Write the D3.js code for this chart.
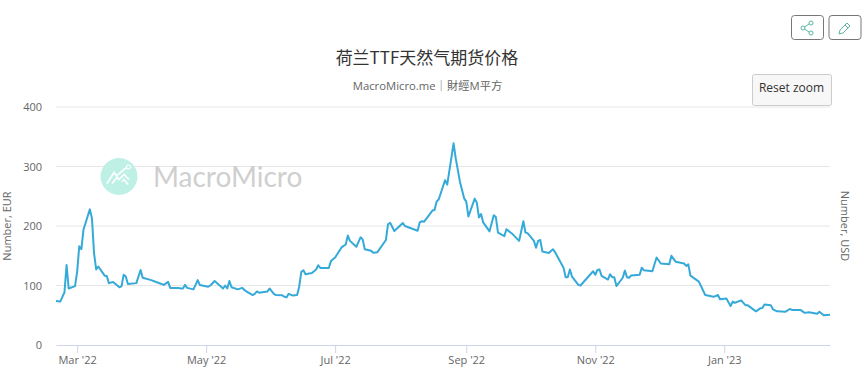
<!DOCTYPE html>
<html>
<head>
<meta charset="utf-8">
<script src="https://d3js.org/d3.v7.min.js"></script>
<style>
	html, body { margin: 0; padding: 0; background: #fff; }
	text { font-family: "Open Sans", "Noto Sans CJK SC", sans-serif; }
</style>
</head>
<body>
<div id="chart"></div>
<script>
// days counted from 1 Mar 2022
var days = [-10, -8, -6, -5, -4, -1, 0, 1, 2, 3, 6, 7, 8, 9, 10, 13, 14, 15, 17, 20, 21, 22, 23, 24, 28, 30, 31, 35, 38, 41,
	43, 44, 48, 49, 50, 51, 52, 55, 57, 58, 62, 63, 65, 69, 70, 71, 72, 73, 76, 78, 80, 83, 84, 85, 86, 90, 91, 93, 94, 97,
	98, 99, 100, 102, 104, 105, 106, 107, 108, 111, 113, 114, 115, 119, 120, 122, 125, 127, 128, 129, 132, 134, 135, 136, 139, 140, 142, 146, 147, 148,
	150, 154, 155, 161, 162, 163, 164, 168, 169, 170, 171, 174, 175, 178, 179, 181, 183, 184, 185, 188, 189, 190, 191, 192, 195, 197, 198, 199, 202, 203,
	206, 209, 211, 212, 213, 216, 217, 218, 219, 220, 223, 225, 226, 228, 230, 231, 232, 233, 234, 237, 238, 244, 245, 246, 247, 248, 251, 252, 253, 254,
	255, 258, 259, 260, 261, 262, 266, 267, 268, 272, 274, 276, 280, 281, 283, 287, 288, 289, 290, 294, 297, 301, 303, 304, 307, 309, 310, 311, 314, 316,
	317, 321, 323, 324, 325, 328, 329, 331, 335, 337, 338, 342, 344, 346, 350, 351, 353, 356];

var prices = [74, 73, 88.5, 134.5, 95, 99, 123, 166, 161, 194, 228, 213, 154, 127, 132, 116.5, 116, 104, 106, 97, 99, 118, 115, 102.5, 104, 126, 113, 109, 105, 101,
	106, 96, 96, 95, 95, 101, 96, 93.5, 109, 101, 98, 100, 107.5, 95, 100, 95, 107.5, 97, 93.5, 96, 90, 84, 86, 90, 88, 90, 95, 86, 84, 83.5,
	81, 80, 86, 83, 84, 98, 123, 125.5, 119, 121, 127, 134, 129.5, 129.5, 141, 147, 164, 169, 184, 175, 165, 181, 177.5, 161, 158.5, 155, 156, 176.5, 203, 205.5,
	191.5, 205, 200, 192, 206, 208, 207, 226, 227, 241, 245, 277, 269.5, 339, 314, 274.5, 246.5, 241, 216, 246, 239, 214.5, 220, 206, 191, 218, 215, 189, 183, 194.5,
	186, 175, 208, 189, 188, 175, 163.5, 175, 176.5, 157, 154.5, 161, 156, 143, 130, 114, 114, 127, 115, 101, 100, 124, 118, 126, 127, 116, 110, 119, 114, 114,
	99, 113, 125, 114, 113, 117, 118, 130, 125.5, 124, 147, 137, 135.6, 150, 140, 137, 133, 135.6, 116.5, 106.5, 84, 81, 84, 77, 78, 65.5, 73, 71, 75, 67,
	67, 56.6, 61.6, 62, 68, 67, 60, 56.6, 56, 60.5, 59, 59, 54, 55, 52.7, 56, 50, 51];

var yTicks = [0, 100, 200, 300, 400];
var xTicks = ["2022-03-01", "2022-05-01", "2022-07-01", "2022-09-01", "2022-11-01", "2023-01-01"];
var xLimits = ["2022-02-19", "2023-02-20"];

var title = "荷兰TTF天然气期货价格";
var subtitle = "MacroMicro.me｜財經M平方";

var width = 865, height = 378;
var plotLeft = 56, plotRight = 830, plotTop = 107, plotBottom = 345;

var parseDay = d3.timeParse("%Y-%m-%d");
var firstDay = parseDay("2022-03-01");

var x = d3.scaleTime().domain(xLimits.map(parseDay)).range([plotLeft, plotRight]);
var y = d3.scaleLinear().domain([0, 400]).range([plotBottom, plotTop]);

var svg = d3.select("#chart")
	.append("svg")
	.attr("width", width)
	.attr("height", height)
	.style("display", "block");

// grid lines
svg.append("g")
	.selectAll("line")
	.data(yTicks.filter(function (d) { return d > 0; }))
	.enter()
	.append("line")
	.attr("x1", plotLeft)
	.attr("x2", plotRight)
	.attr("y1", function (d) { return y(d); })
	.attr("y2", function (d) { return y(d); })
	.attr("stroke", "#e6e6e6");

// watermark
var mark = svg.append("g").attr("transform", "translate(119,176.5)");
mark.append("circle").attr("r", 18.5).attr("fill", "#bff0e6");
mark.append("path")
	.attr("d", "M-12,7 L-5,-4 L0,3 L5,-2 L10,3 M-7,7 L-2,1 M3,5 L5,3 L9,8 M-5,-4 L-2,-1 L5,-7 L8,-9")
	.attr("fill", "none")
	.attr("stroke", "#fff")
	.attr("stroke-width", 1.6);
mark.append("circle").attr("cx", 9.5).attr("cy", -9.5).attr("r", 2).attr("fill", "#bff0e6").attr("stroke", "#fff").attr("stroke-width", 1.2);
svg.append("text")
	.attr("x", 153)
	.attr("y", 187)
	.attr("font-size", 28)
	.attr("fill", "#cfcfcf")
	.style("font-family", "Lato, sans-serif")
	.text("MacroMicro");

// the price line
var valueline = d3.line()
	.x(function (d) { return x(d3.timeDay.offset(firstDay, d)); })
	.y(function (d, i) { return y(prices[i]); });

svg.append("path")
	.attr("d", valueline(days))
	.attr("fill", "none")
	.attr("stroke", "#35aad8")
	.attr("stroke-width", 2)
	.attr("stroke-linejoin", "round");

// x axis
var xAxis = d3.axisBottom(x)
	.tickValues(xTicks.map(parseDay))
	.tickFormat(d3.timeFormat("%b '%y"))
	.tickSize(8)
	.tickSizeOuter(0)
	.tickPadding(3);

var xG = svg.append("g")
	.attr("transform", "translate(0," + plotBottom + ")")
	.call(xAxis);
xG.selectAll("path, line").attr("stroke", "#ccd6eb");
xG.selectAll("text")
	.attr("font-size", 11)
	.attr("fill", "#666")
	.style("font-family", "'Open Sans', sans-serif");

// y axis
var yAxis = d3.axisLeft(y)
	.tickValues(yTicks)
	.tickSize(0)
	.tickPadding(14);

var yG = svg.append("g")
	.attr("transform", "translate(" + plotLeft + ",0)")
	.call(yAxis);
yG.select("path").remove();
yG.selectAll("text")
	.attr("font-size", 11)
	.attr("fill", "#666")
	.style("font-family", "'Open Sans', sans-serif");

// axis names
svg.append("text")
	.attr("transform", "translate(11,226) rotate(-90)")
	.attr("text-anchor", "middle")
	.attr("font-size", 11)
	.attr("fill", "#666")
	.text("Number, EUR");
svg.append("text")
	.attr("transform", "translate(841,226) rotate(90)")
	.attr("text-anchor", "middle")
	.attr("font-size", 11)
	.attr("fill", "#666")
	.text("Number, USD");

// titles
svg.append("text")
	.attr("x", 427)
	.attr("y", 64)
	.attr("text-anchor", "middle")
	.attr("font-size", 17)
	.attr("fill", "#333")
	.style("font-family", "'Noto Sans CJK SC', sans-serif")
	.text(title);
svg.append("text")
	.attr("x", 427.5)
	.attr("y", 90)
	.attr("text-anchor", "middle")
	.attr("font-size", 11.3)
	.attr("fill", "#666")
	.text(subtitle);

// reset zoom button
svg.append("rect")
	.attr("x", 752.5)
	.attr("y", 74.5)
	.attr("width", 79)
	.attr("height", 31)
	.attr("rx", 2)
	.attr("fill", "#f7f7f7")
	.attr("stroke", "#cccccc");
svg.append("text")
	.attr("x", 791.5)
	.attr("y", 92)
	.attr("text-anchor", "middle")
	.attr("font-size", 12)
	.attr("fill", "#333")
	.text("Reset zoom");

// share and edit buttons
[791.5, 829].forEach(function (bx) {
	svg.append("rect")
		.attr("x", bx)
		.attr("y", 15.5)
		.attr("width", 32)
		.attr("height", 24)
		.attr("rx", 3)
		.attr("fill", "#fff")
		.attr("stroke", "#777");
});

var share = svg.append("g")
	.attr("transform", "translate(807,28)")
	.attr("fill", "none")
	.attr("stroke", "#5fb3a5");
share.append("path").attr("d", "M-2.5,-1 L2,-4 M-2.5,1 L2,4");
share.append("circle").attr("cx", -4).attr("cy", 0).attr("r", 2);
share.append("circle").attr("cx", 4).attr("cy", -5).attr("r", 2);
share.append("circle").attr("cx", 4).attr("cy", 5).attr("r", 2);

svg.append("path")
	.attr("transform", "translate(845,28)")
	.attr("d", "M-6,6 L-5,2 L2,-5 L5,-2 L-2,5 Z M0,-3 L3,0")
	.attr("fill", "none")
	.attr("stroke", "#5fb3a5");
</script>
</body>
</html>
